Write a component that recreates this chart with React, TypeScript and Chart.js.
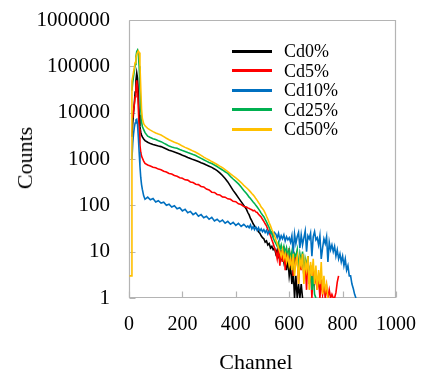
import React, { useEffect, useRef } from "react";
import { Chart, registerables } from "chart.js";

Chart.register(...registerables);

const channels = [
  2, 5, 8, 11, 14, 17, 20, 23, 26, 29, 32, 35, 38, 41, 44, 47, 50, 55, 60,
  70, 80, 90, 100, 110, 120, 130, 140, 150, 160, 170, 180, 190, 200, 210, 220, 230, 240, 250,
  260, 270, 280, 290, 300, 310, 320, 330, 340, 350, 360, 370, 380, 390, 400, 410, 420, 430, 440,
  445, 450, 455, 460, 465, 470, 475, 480, 485, 490, 495, 500, 505, 510, 515, 520, 525, 530, 535,
  540, 545, 550, 555, 560, 565, 570, 575, 580, 585, 590, 595, 600, 605, 610, 615, 620, 625, 630,
  635, 640, 645, 650, 655, 660, 665, 670, 675, 680, 685, 690, 695, 700, 705, 710, 715, 720, 725,
  730, 735, 740, 745, 750, 755, 760, 765, 770, 775, 780, 785, 790, 795, 800, 805, 810, 815, 820,
  825, 830, 835, 840, 845, 850,
];

const cd0 = [
  null, null, null, 3000, 6000, 10000, 16000, 28000, 50000, 72000, 55000, 25000, 9000, 5000, 3800, 3300, 3000, 2700, 2500,
  2300, 2150, 2050, 1980, 1900, 1850, 1750, 1650, 1550, 1480, 1420, 1350, 1280, 1200, 1150, 1080, 1030, 970, 930,
  880, 830, 790, 740, 700, 660, 610, 560, 500, 440, 380, 320, 260, 210, 175, 145, 120, 100, 82,
  70, 62, 52, 46, 40, 36, 33, 30, 27, 25, 22, 20, 19, 16, 17, 14, 15, 12, 13, 11, 12, 9, 11, 8, 10,
  7, 9, 6, 9, 4, 7, 3, 5, 2, 4, 1, 3, 1, 2, 1, 2, 1,
];

const cd5 = [
  null, null, null, null, 7700, 11000, 15000, 22000, 35000, 50000, 32000, 12000, 4500, 2000, 1400, 1150, 1050, 900, 800,
  740, 705, 665, 645, 605, 585, 545, 525, 485, 475, 440, 425, 395, 385, 355, 350, 320, 310, 285,
  280, 255, 250, 225, 215, 192, 190, 172, 168, 152, 150, 138, 135, 122, 120, 108, 104, 94, 92,
  88, 86, 82, 80, 76, 78, 72, 70, 64, 60, 56, 50, 45, 40, 36, 30, 26, 22, 18, 15, 12, 10,
  7, 12, 5, 11, 6, 13, 4, 10, 7, 12, 5, 9, 3, 8, 6, 10, 2, 7, 4, 9, 3, 6, 1.5, 8, 2, 5, 1, 4, 2, 3,
  1.5, 3, 1, 2.5, 1.2, 2, 1, 1.8, 1, 1.5, 1, 1.2, 1, 1, 1.3, 2.2, 3,
];

const cd10 = [
  null, null, null, 1000, 2200, 3500, 4800, 6000, 7000, 7200, 5500, 3000, 1400, 700, 400, 280, 220, 160, 135,
  150, 132, 140, 118, 126, 112, 117, 100, 106, 92, 98, 84, 89, 76, 82, 69, 74, 63, 69,
  58, 63, 54, 58, 50, 55, 46, 50, 44, 48, 41, 45, 39, 43, 37, 41, 35, 39, 34,
  36, 33, 38, 31, 35, 30, 34, 29, 33, 28, 31, 27, 30, 26, 29, 24, 28, 25, 27, 22, 26,
  24, 20, 25, 18, 22, 19, 23, 17, 21, 18, 20,
  16, 22, 9, 24, 15, 21, 26, 12, 23, 14, 20, 28, 10, 22, 19, 25, 8, 21, 27, 18,
  20, 14, 22, 7, 12, 19, 15, 21, 6, 16, 11, 14,
  10, 13, 8, 11, 7, 9, 6, 8,
  5, 7, 4, 5, 3, 3, 2, 1.6, 1.2, 1,
];

const cd25 = [
  null, null, null, 30000, 45000, 60000, 80000, 110000, 160000, 210000, 225000, 180000, 100000, 35000, 12000, 6500, 5000, 4300, 3700,
  3100, 2900, 2750, 2620, 2480, 2370, 2200, 2050, 1900, 1820, 1750, 1700, 1600, 1520, 1450, 1380, 1320, 1250, 1190,
  1100, 1030, 960, 900, 840, 800, 740, 690, 630, 580, 530, 490, 420, 370, 330, 290, 250, 210, 180,
  165, 150, 140, 128, 118, 110, 100, 92, 84, 76, 68, 62, 57, 50, 44, 38, 33, 28, 24, 20, 17, 15,
  13, 16, 11, 14, 10, 13, 9, 12, 8, 11,
  7, 10, 5, 9, 8, 11, 4, 9, 6, 10, 3, 7, 5, 8, 2, 5, 1.5, 3, 1.2, 1,
];

const cd50 = [
  3, 3, 3, 48000, 60000, 75000, 95000, 120000, 150000, 180000, 200000, 215000, 200000, 110000, 35000, 12000, 7500, 5800, 5200,
  4600, 4200, 3900, 3650, 3450, 3300, 3050, 2800, 2600, 2450, 2300, 2200, 2050, 1900, 1780, 1680, 1580, 1480, 1400,
  1300, 1200, 1100, 1020, 950, 880, 820, 760, 700, 650, 590, 535, 480, 430, 390, 350, 310, 270, 240,
  225, 210, 195, 180, 168, 155, 140, 128, 115, 105, 92, 85, 78, 68, 58, 50, 42, 36, 30, 26, 22, 18,
  15, 12, 10, 8, 11, 7, 9, 6, 8, 5,
  7, 4, 9, 3, 6, 8, 2, 7, 5, 9, 2, 6, 4, 8, 1.5, 6, 3, 7, 2, 5,
  1.5, 4, 2, 6, 1.2, 3, 1.5, 2, 1,
];

const seriesNames = ["Cd0%", "Cd5%", "Cd10%", "Cd25%", "Cd50%"];
const seriesValues = [cd0, cd5, cd10, cd25, cd50];
const seriesColors = ["#000000", "#ff0000", "#0070c0", "#00b050", "#ffc000"];
const yTicks = [1, 10, 100, 1000, 10000, 100000, 1000000];
const xTicks = [0, 200, 400, 600, 800, 1000];

const FONT = "'Liberation Serif', 'Times New Roman', serif";

function toPoints(values: (number | null)[]) {
  const pts: { x: number; y: number }[] = [];
  values.forEach((v, i) => {
    if (v != null) pts.push({ x: channels[i], y: v });
  });
  return pts;
}

const framePlugin = {
  id: "frameTicks",
  beforeDatasetsDraw(chart: any) {
    const { ctx, chartArea, scales } = chart;
    const { left, right, top, bottom } = chartArea;
    ctx.save();
    ctx.strokeStyle = "#b4b4b4";
    ctx.lineWidth = 1.2;
    const l = Math.round(left) + 0.5;
    const r = Math.round(right) - 0.5;
    const t = Math.round(top) + 0.5;
    const b = Math.round(bottom) - 0.5;
    ctx.beginPath();
    ctx.moveTo(l, t);
    ctx.lineTo(r, t);
    ctx.lineTo(r, b);
    ctx.lineTo(l, b);
    ctx.lineTo(l, t);
    ctx.stroke();
    ctx.beginPath();
    yTicks.forEach((v) => {
      const y = Math.round(scales.y.getPixelForValue(v)) + 0.5;
      ctx.moveTo(l, y);
      ctx.lineTo(l + 6, y);
    });
    xTicks.forEach((v) => {
      const x = Math.round(scales.x.getPixelForValue(v)) + 0.5;
      ctx.moveTo(x, b);
      ctx.lineTo(x, b - 6);
    });
    ctx.stroke();
    ctx.restore();
  },
};

function noOverflow(scale: any) {
  scale.paddingTop = 0;
  scale.paddingBottom = 0;
  scale.paddingLeft = 0;
  scale.paddingRight = 0;
}

export default function App() {
  const canvasRef = useRef<HTMLCanvasElement | null>(null);

  useEffect(() => {
    if (!canvasRef.current) return;
    const chart = new Chart(canvasRef.current, {
      type: "line",
      data: {
        datasets: seriesNames.map((name, i) => ({
          label: name,
          data: toPoints(seriesValues[i]),
          borderColor: seriesColors[i],
          backgroundColor: seriesColors[i],
          borderWidth: 1.6,
          pointRadius: 0,
          tension: 0,
          fill: false,
          order: seriesNames.length - i,
        })),
      },
      options: {
        responsive: false,
        animation: false,
        devicePixelRatio: 1,
        layout: { padding: { left: 0, top: 20, right: 25, bottom: 0 } },
        plugins: { legend: { display: false }, tooltip: { enabled: false } },
        scales: {
          x: {
            type: "linear",
            min: 0,
            max: 1000,
            grid: { display: false, drawTicks: false },
            border: { display: false },
            afterBuildTicks: (scale: any) => {
              scale.ticks = xTicks.map((v) => ({ value: v }));
            },
            afterFit: (scale: any) => {
              scale.height = 76;
              noOverflow(scale);
            },
            ticks: {
              color: "#000",
              font: { family: FONT, size: 20 },
              padding: 15,
              maxRotation: 0,
              callback: (v: any) => String(v),
            },
          },
          y: {
            type: "logarithmic",
            min: 1,
            max: 1000000,
            grid: { display: false, drawTicks: false },
            border: { display: false },
            afterBuildTicks: (scale: any) => {
              scale.ticks = yTicks.map((v) => ({ value: v }));
            },
            afterFit: (scale: any) => {
              scale.width = 129;
              noOverflow(scale);
            },
            ticks: {
              color: "#000",
              font: { family: FONT, size: 21 },
              padding: 19,
              callback: (v: any) => String(v),
            },
          },
        },
      },
      plugins: [framePlugin],
    } as any);
    return () => chart.destroy();
  }, []);

  const legendY = [51, 70.6, 90.2, 109.8, 129.4];

  return (
    <div style={{ position: "fixed", left: 0, top: 0, width: 421, height: 374, background: "#fff", fontFamily: FONT }}>
      <canvas ref={canvasRef} width={421} height={374} style={{ display: "block", width: 421, height: 374 }} />
      <div
        style={{
          position: "absolute",
          left: 25,
          top: 158,
          transform: "translate(-50%, -50%) rotate(-90deg)",
          fontSize: 22,
          lineHeight: 1,
          whiteSpace: "nowrap",
          color: "#000",
        }}
      >
        Counts
      </div>
      <div
        style={{
          position: "absolute",
          left: 256,
          top: 362,
          transform: "translate(-50%, -50%)",
          fontSize: 22,
          lineHeight: 1,
          whiteSpace: "nowrap",
          color: "#000",
        }}
      >
        Channel
      </div>
      {seriesNames.map((name, i) => (
        <React.Fragment key={name}>
          <div
            style={{
              position: "absolute",
              left: 232,
              top: legendY[i] - 1.5,
              width: 40,
              height: 3,
              background: seriesColors[i],
            }}
          />
          <div
            style={{
              position: "absolute",
              left: 284,
              top: legendY[i],
              transform: "translateY(-50%)",
              fontSize: 18,
              lineHeight: 1,
              whiteSpace: "nowrap",
              color: "#000",
            }}
          >
            {name}
          </div>
        </React.Fragment>
      ))}
    </div>
  );
}
